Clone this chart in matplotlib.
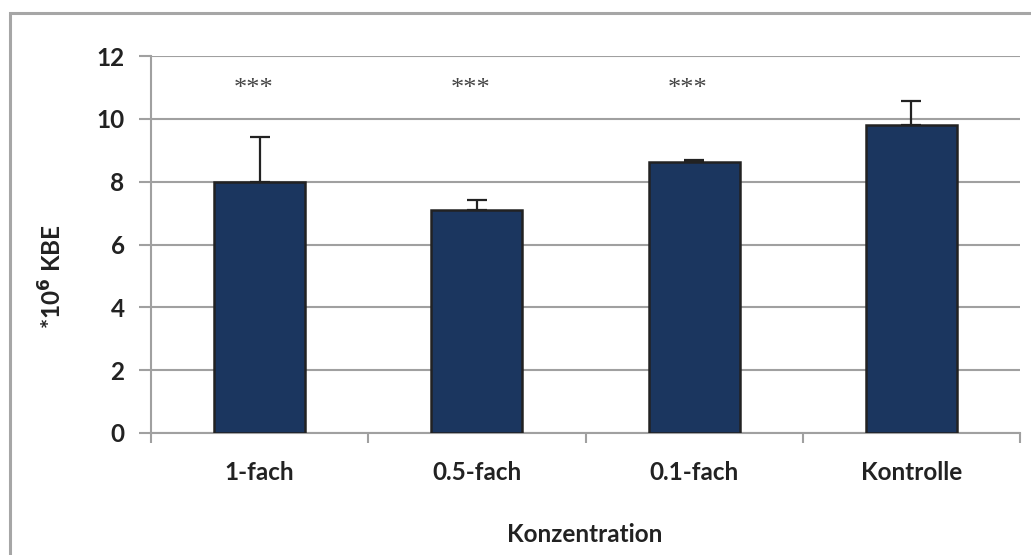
import matplotlib.pyplot as plt
from matplotlib.patches import Rectangle
import numpy as np

categories = ["1-fach", "0.5-fach", "0.1-fach", "Kontrolle"]
kbe = [8.0, 7.1, 8.63, 9.81]
kbe_err = [1.43, 0.32, 0.06, 0.75]
signif = ["***", "***", "***", ""]
y_ticks = [0, 2, 4, 6, 8, 10, 12]

plt.rcParams['font.family'] = ['Lato', 'DejaVu Sans']

fig = plt.figure(figsize=(10.31, 5.55), dpi=100)

# grauer Rahmen um das ganze Diagramm
fig.patches.append(Rectangle((10 / 1031, -0.05), 1.1, 1 - 13 / 555 + 0.05,
                             transform=fig.transFigure, fill=False,
                             edgecolor="#a6a6a6", linewidth=2.2))

ax = fig.add_axes([151 / 1031, 1 - 433 / 555, (1020 - 151) / 1031, (433 - 56) / 555])

x = np.arange(len(categories))
ax.bar(x, kbe, width=0.42, color="#1b365f", edgecolor="#222222", linewidth=1.8, zorder=3)
ax.errorbar(x, kbe, yerr=[np.zeros(len(kbe)), kbe_err], fmt="none", ecolor="#222222",
            elinewidth=1.6, capsize=7, capthick=1.6, zorder=2)

for xi, s in zip(x, signif):
    ax.text(xi - 0.03, 10.95, s, ha="center", va="center", fontsize=19,
            family="Liberation Serif", color="#444444")

ax.set_xlim(-0.5, len(categories) - 0.5)
ax.set_ylim(0, 12)
ax.set_yticks(y_ticks)
ax.set_yticklabels([str(t) for t in y_ticks], fontsize=17.5, fontweight="bold", color="#222222")
ax.yaxis.grid(True, color="#a0a0a0", linewidth=1.5, zorder=0)
ax.set_axisbelow(True)

# Striche an den Kategoriegrenzen, Beschriftung in der Mitte
ax.set_xticks(np.arange(-0.5, len(categories), 1.0))
ax.set_xticklabels([])
ax.set_xticks(x, minor=True)
ax.set_xticklabels(categories, minor=True, fontsize=17.5, fontweight="bold", color="#222222")
ax.tick_params(axis="x", which="major", length=7, width=1.5, color="#a0a0a0", direction="out")
ax.tick_params(axis="x", which="minor", length=0, pad=20)
ax.tick_params(axis="y", length=9, width=1.5, color="#a0a0a0", pad=10)

for side in ["top", "right"]:
    ax.spines[side].set_visible(False)
for side in ["left", "bottom"]:
    ax.spines[side].set_color("#a0a0a0")
    ax.spines[side].set_linewidth(1.5)

fig.text(585 / 1031, 1 - 535 / 555, "Konzentration", ha="center", va="center",
         fontsize=17.5, fontweight="bold", color="#222222")
fig.text(52 / 1031, 1 - 277 / 555, r"*10$^{\mathbf{6}}$ KBE", ha="center", va="center",
         rotation=90, fontsize=17.5, fontweight="bold", color="#222222")

fig.savefig("out.png", dpi=100)
